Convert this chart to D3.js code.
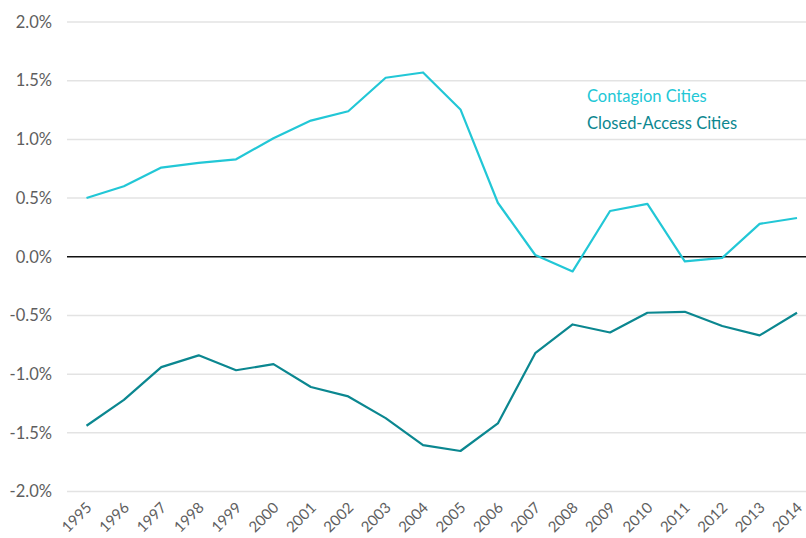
<!DOCTYPE html>
<html>
<head>
<meta charset="utf-8">
<script src="https://cdn.jsdelivr.net/npm/d3@7"></script>
<style>
	body { margin: 0; background: #fff; }
	text { font-family: Lato, "Open Sans", sans-serif; }
</style>
</head>
<body>
<div id="chart"></div>
<script>

// data
var years = [1995, 1996, 1997, 1998, 1999, 2000, 2001, 2002, 2003, 2004,
	2005, 2006, 2007, 2008, 2009, 2010, 2011, 2012, 2013, 2014];

var contagion = [0.50, 0.60, 0.76, 0.80, 0.83, 1.01, 1.16, 1.24, 1.525, 1.57,
	1.255, 0.46, 0.015, -0.125, 0.39, 0.45, -0.04, -0.01, 0.28, 0.33];

var closedAccess = [-1.44, -1.22, -0.94, -0.84, -0.967, -0.915, -1.11, -1.19, -1.375, -1.605,
	-1.655, -1.42, -0.822, -0.577, -0.645, -0.477, -0.469, -0.59, -0.67, -0.477];

var yTicks = [2.0, 1.5, 1.0, 0.5, 0.0, -0.5, -1.0, -1.5, -2.0];

var seriesNames = ["Contagion Cities", "Closed-Access Cities"];
var seriesColors = ["#22c7d6", "#0b8790"];

function makeChart() {

	// set size and margin
	var margin = {top: 22, right: 9, bottom: 47, left: 67};
	var width = 806 - margin.left - margin.right,
		height = 538 - margin.top - margin.bottom;

	var x = d3.scalePoint()
		.domain(years)
		.range([86.5 - margin.left, 797 - margin.left]);

	var y = d3.scaleLinear()
		.domain([-2, 2])
		.range([height + 0.5, 0]);

	var svg = d3.select("#chart")
		.append("svg")
		.attr("width", 806)
		.attr("height", 538)
		.append("g")
		.attr("transform", "translate(" + margin.left + "," + margin.top + ")");

	// gridlines
	svg.selectAll(".grid")
		.data(yTicks.filter(function(d) { return d !== 0; }))
		.enter()
		.append("line")
		.attr("class", "grid")
		.attr("x1", 0)
		.attr("x2", width + margin.right)
		.attr("y1", function(d) { return y(d); })
		.attr("y2", function(d) { return y(d); })
		.attr("stroke", "#e3e3e3")
		.attr("stroke-width", 1.5);

	// y labels
	var yAxis = d3.axisLeft(y)
		.tickValues(yTicks)
		.tickSize(0)
		.tickPadding(15)
		.tickFormat(function(d) { return d.toFixed(1) + "%"; });

	svg.append("g")
		.call(yAxis)
		.call(function(g) { g.select(".domain").remove(); })
		.selectAll("text")
		.attr("fill", "#5e5e5e")
		.style("font-size", "16.5px");

	// zero line
	svg.append("line")
		.attr("x1", 0)
		.attr("x2", width + margin.right)
		.attr("y1", y(0))
		.attr("y2", y(0))
		.attr("stroke", "#111")
		.attr("stroke-width", 1.3);

	// x labels
	var xAxis = d3.axisBottom(x)
		.tickSize(0)
		.tickPadding(0);

	svg.append("g")
		.attr("transform", "translate(0," + height + ")")
		.call(xAxis)
		.call(function(g) { g.select(".domain").remove(); })
		.selectAll("text")
		.attr("fill", "#5e5e5e")
		.style("font-size", "15px")
		.attr("text-anchor", "end")
		.attr("dy", "0.35em")
		.attr("transform", "translate(2,14) rotate(-45)");

	// lines
	var line = d3.line()
		.x(function(d, i) { return x(years[i]); })
		.y(function(d) { return y(d); });

	[contagion, closedAccess].forEach(function(s, i) {
		svg.append("path")
			.datum(s)
			.attr("fill", "none")
			.attr("stroke", seriesColors[i])
			.attr("stroke-width", 2.2)
			.attr("stroke-linejoin", "round")
			.attr("d", line);
	});

	// legend
	svg.selectAll(".legend")
		.data(seriesNames)
		.enter()
		.append("text")
		.attr("class", "legend")
		.attr("x", 587 - margin.left)
		.attr("y", function(d, i) { return 102 - margin.top + i * 27; })
		.attr("fill", function(d, i) { return seriesColors[i]; })
		.style("font-size", "16.5px")
		.text(function(d) { return d; });
}

makeChart();
</script>
</body>
</html>
